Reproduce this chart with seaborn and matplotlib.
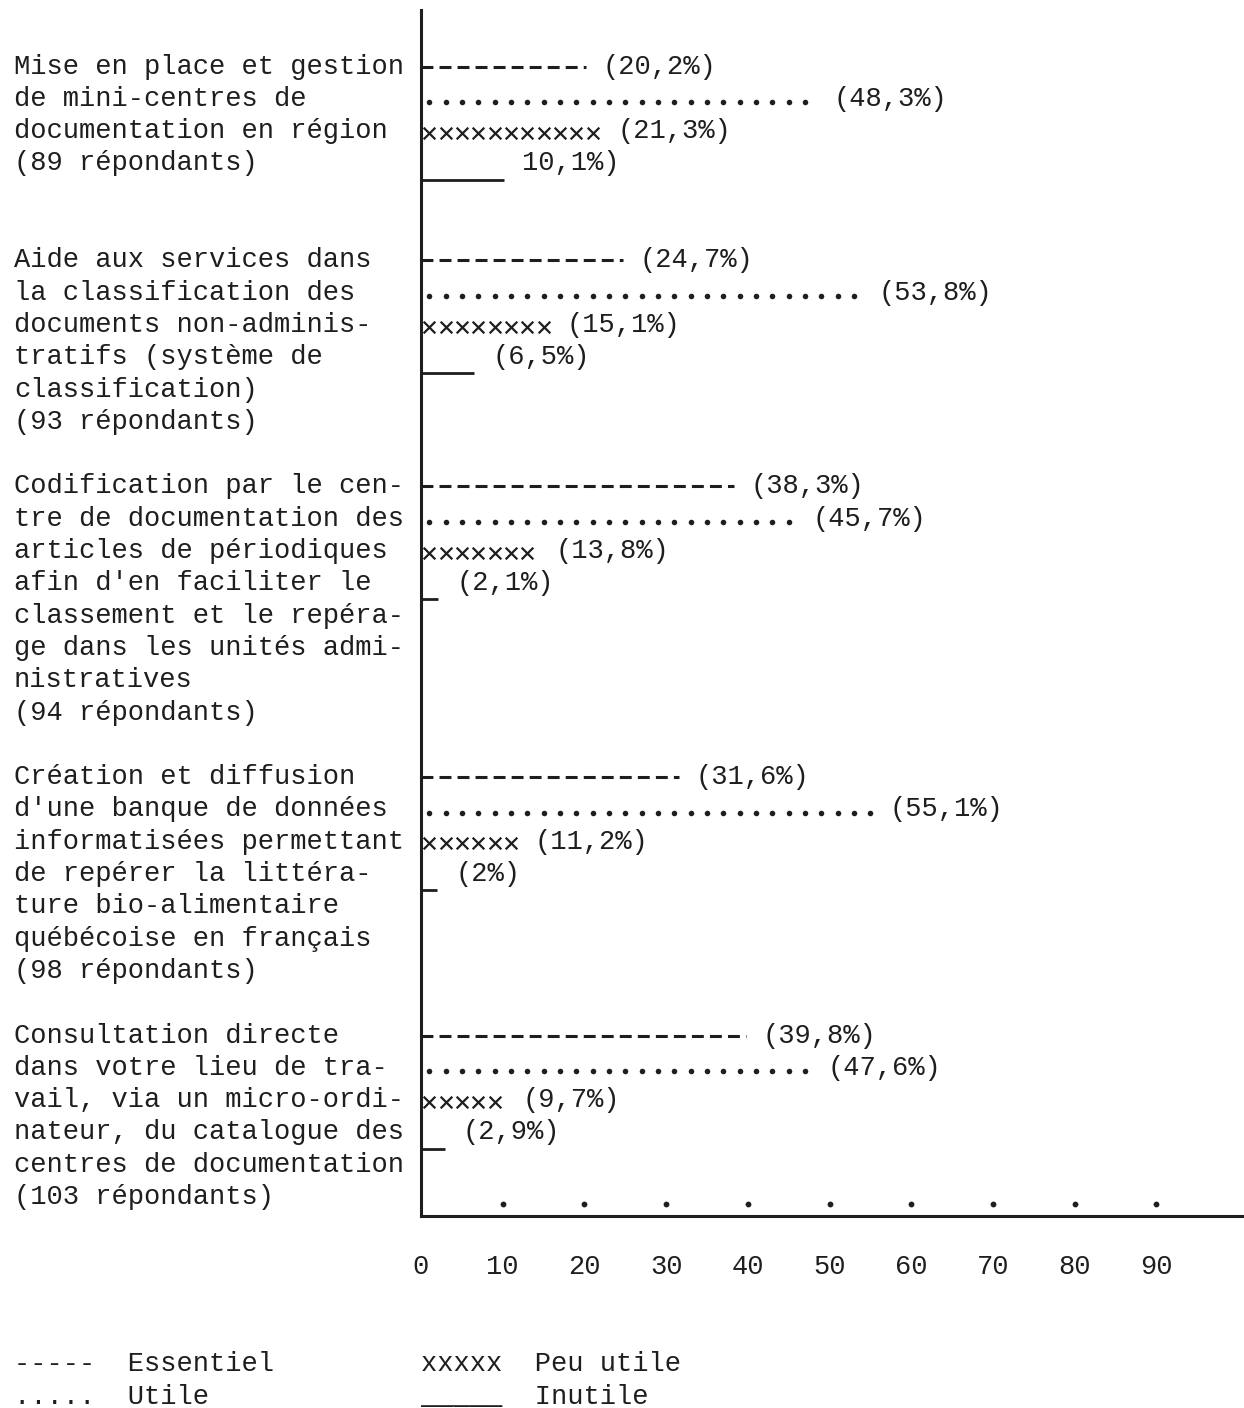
import numpy as np
import pandas as pd
import matplotlib
matplotlib.use("Agg")
import matplotlib.pyplot as plt
import matplotlib.transforms as mtransforms
import seaborn as sns

# Data (percent of respondents)
categories = [
    "Mise en place et gestion\nde mini-centres de\ndocumentation en région\n(89 répondants)",
    "Aide aux services dans\nla classification des\ndocuments non-adminis-\ntratifs (système de\nclassification)\n(93 répondants)",
    "Codification par le cen-\ntre de documentation des\narticles de périodiques\nafin d'en faciliter le\nclassement et le repéra-\nge dans les unités admi-\nnistratives\n(94 répondants)",
    "Création et diffusion\nd'une banque de données\ninformatisées permettant\nde repérer la littéra-\nture bio-alimentaire\nquébécoise en français\n(98 répondants)",
    "Consultation directe\ndans votre lieu de tra-\nvail, via un micro-ordi-\nnateur, du catalogue des\ncentres de documentation\n(103 répondants)",
]
essentiel = [20.2, 24.7, 38.3, 31.6, 39.8]
utile = [48.3, 53.8, 45.7, 55.1, 47.6]
peu_utile = [21.3, 15.1, 13.8, 11.2, 9.7]
inutile = [10.1, 6.5, 2.1, 2.0, 2.9]

lbl_essentiel = ["(20,2%)", "(24,7%)", "(38,3%)", "(31,6%)", "(39,8%)"]
lbl_utile = ["(48,3%)", "(53,8%)", "(45,7%)", "(55,1%)", "(47,6%)"]
lbl_peu_utile = ["(21,3%)", "(15,1%)", "(13,8%)", "(11,2%)", "(9,7%)"]
lbl_inutile = ["10,1%)", "(6,5%)", "(2,1%)", "(2%)", "(2,9%)"]

x_ticks = [0, 10, 20, 30, 40, 50, 60, 70, 80, 90]

legend_items = ["-----  Essentiel", ".....  Utile", "xxxxx  Peu utile", "_____  Inutile"]

# Style
sns.set_theme(style="white")
plt.rcParams["font.family"] = ["Liberation Mono", "DejaVu Sans Mono"]
ink = "#1e1e1e"
fs = 19.5
W, H = 1244, 1408
line_h = 32.3      # typed line height in px
px_per_pct = 8.17

fig = plt.figure(figsize=(W / 100, H / 100), dpi=100)
fig.patch.set_facecolor("white")
ax = fig.add_axes([421 / W, 192 / H, (W - 421) / W, 1206 / H])
ax.set_facecolor("white")
ax.set_xlim(0, (W - 421) / px_per_pct)
ax.set_ylim(1206 / line_h, 0)

# first text row of each block (one blank line between blocks)
n_lines = [len(c.split("\n")) for c in categories]
starts = np.concatenate([[0], np.cumsum([max(n, 5) + 1 for n in n_lines[:-1]])]) + 1.75

# left-hand descriptions, one typed line per row
trans = mtransforms.blended_transform_factory(fig.transFigure, ax.transData)
for s, cat in zip(starts, categories):
    for j, line in enumerate(cat.split("\n")):
        ax.text(14 / W, s + j, line, transform=trans, ha="left", va="center",
                fontsize=fs, color=ink, clip_on=False)

# Essentiel: dashed bars, Inutile: solid underline
for i, s in enumerate(starts):
    ax.plot([0, essentiel[i]], [s, s], ls=(0, (3.9, 2.0)), lw=2.2, color=ink,
            solid_capstyle="butt", dash_capstyle="butt")
    ax.plot([0, inutile[i]], [s + 3.5, s + 3.5], lw=2.0, color=ink,
            solid_capstyle="butt")

# Utile (dots) and Peu utile (x) as typed marks
dots, crosses = [], []
for i, s in enumerate(starts):
    for xx in np.arange(1.0, utile[i], 2.0):
        dots.append((xx, s + 1.1))
    for xx in np.arange(1.0, peu_utile[i], 2.0):
        crosses.append((xx, s + 2.05))
df_dots = pd.DataFrame(dots, columns=["pct", "row"])
df_x = pd.DataFrame(crosses, columns=["pct", "row"])
sns.scatterplot(data=df_dots, x="pct", y="row", ax=ax, marker="o", s=16,
                color=ink, linewidth=0, legend=False)
sns.scatterplot(data=df_x, x="pct", y="row", ax=ax, marker="x", s=70,
                color=ink, linewidth=1.6, legend=False)

# value labels
for i, s in enumerate(starts):
    for val, lab, dy, off in [(essentiel[i], lbl_essentiel[i], 0, 12),
                              (utile[i], lbl_utile[i], 1, 13),
                              (peu_utile[i], lbl_peu_utile[i], 2, 16),
                              (inutile[i], lbl_inutile[i], 3, 13)]:
        ax.annotate(lab, xy=(val, s + dy), xytext=(off, 0), textcoords="offset points",
                    ha="left", va="center", fontsize=fs, color=ink)

# axis
ax.set_xlabel("")
ax.set_ylabel("")
ax.set_yticks([])
ax.set_xticks(x_ticks)
ax.set_xticklabels([str(t) for t in x_ticks])
ax.tick_params(axis="x", length=0, pad=27, labelsize=fs, labelcolor=ink)
ax.scatter(x_ticks[1:], [0.01] * (len(x_ticks) - 1), transform=ax.get_xaxis_transform(),
           s=10, color=ink, clip_on=False)
for side in ["top", "right"]:
    ax.spines[side].set_visible(False)
for side in ["left", "bottom"]:
    ax.spines[side].set_linewidth(2.2)
    ax.spines[side].set_color(ink)

# typed legend
fig.text(14 / W, 1 - 1364 / H, legend_items[0], ha="left", va="center", fontsize=fs, color=ink)
fig.text(14 / W, 1 - 1397 / H, legend_items[1], ha="left", va="center", fontsize=fs, color=ink)
fig.text(421 / W, 1 - 1364 / H, legend_items[2], ha="left", va="center", fontsize=fs, color=ink)
fig.text(421 / W, 1 - 1397 / H, legend_items[3], ha="left", va="center", fontsize=fs, color=ink)

fig.savefig("out.png", dpi=100)
